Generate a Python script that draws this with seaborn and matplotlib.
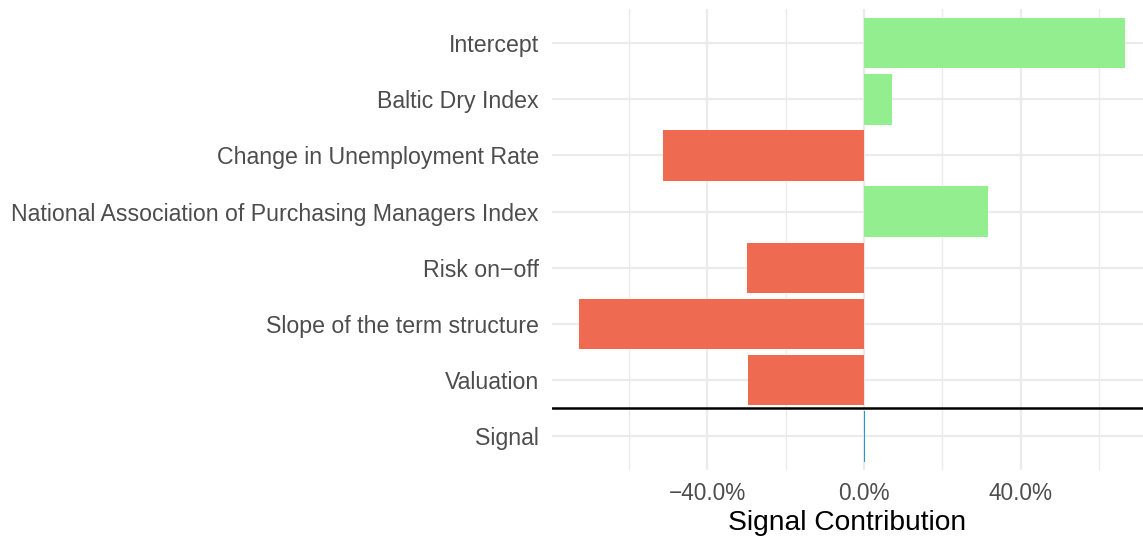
import matplotlib
matplotlib.use("Agg")
import matplotlib.pyplot as plt
import seaborn as sns
import pandas as pd
from matplotlib.ticker import FixedLocator, FuncFormatter

categories = ["Intercept", "Baltic Dry Index", "Change in Unemployment Rate",
              "National Association of Purchasing Managers Index", "Risk on\u2212off",
              "Slope of the term structure", "Valuation", "Signal"]
values = [66.5, 7.1, -51.2, 31.6, -29.8, -72.6, -29.6, 0.3]
kinds = ["pos", "pos", "neg", "pos", "neg", "neg", "neg", "signal"]

palette = {"pos": "#93EE8F", "neg": "#EE6A50", "signal": "#1E9BD7"}

df = pd.DataFrame({"factor": categories, "value": values, "kind": kinds})

sns.set_theme(style="white")
plt.rcParams['font.family'] = ['Liberation Sans', 'DejaVu Sans']

fig = plt.figure(figsize=(11.43, 5.38), dpi=100)
ax = fig.add_axes([0.483, 0.1264, 0.517, 0.8561])

# grid
for gx in [-60, -20, 20, 60]:
    ax.axvline(gx, color="#EBEBEB", lw=1.0, zorder=0)
for gx in [-40, 0, 40]:
    ax.axvline(gx, color="#EBEBEB", lw=1.6, zorder=0)
for gy in range(len(categories)):
    ax.axhline(gy, color="#EBEBEB", lw=1.6, zorder=0)

sns.barplot(data=df, x="value", y="factor", hue="kind", palette=palette,
            order=categories, hue_order=["pos", "neg", "signal"], dodge=False,
            width=0.9, legend=False, ax=ax, zorder=2, saturation=1, linewidth=0)

ax.axhline(6.5, color="black", lw=1.8, zorder=3)

ax.set_xlim(-79.5, 71.1)
ax.set_ylim(7.6, -0.6)
ax.xaxis.set_major_locator(FixedLocator([-40, 0, 40]))
ax.xaxis.set_major_formatter(FuncFormatter(lambda v, p: f"{v:.1f}%".replace("-", "\u2212")))
for s in ax.spines.values():
    s.set_visible(False)
ax.tick_params(axis="x", length=0, labelsize=16.3, labelcolor="#4D4D4D", pad=9)
ax.tick_params(axis="y", length=0, labelsize=16.65, labelcolor="#4D4D4D", pad=9.5)
ax.set_ylabel("")
ax.set_xlabel("Signal Contribution", fontsize=20.3, color="black", labelpad=3)

fig.savefig("out.png", dpi=100)
